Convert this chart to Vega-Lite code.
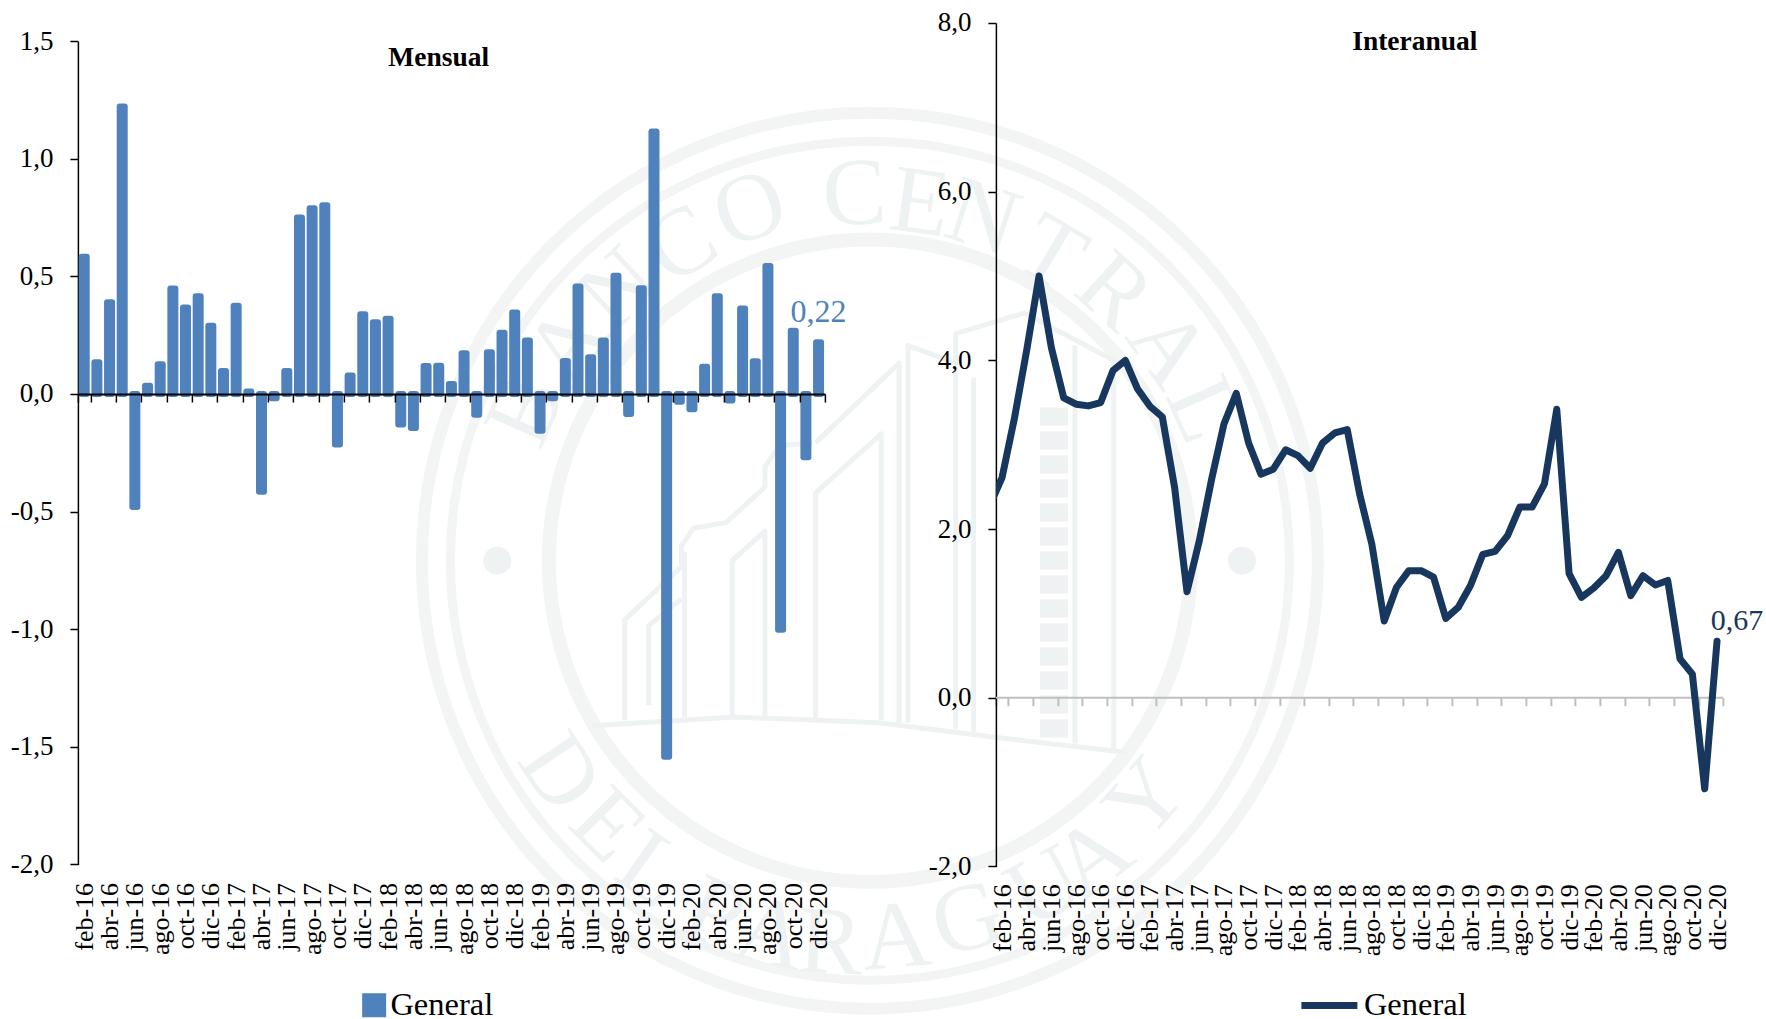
{
"$schema":"https://vega.github.io/schema/vega-lite/v6.json",
"background":"white",
"padding":{"left":9.9,"top":9,"right":0,"bottom":0},
"config":{"view":{"stroke":null},"font":"Liberation Serif",
 "axis":{"labelFont":"Liberation Serif","labelColor":"#000000","grid":false,"title":null,"labelOverlap":false,"labelBound":false,"labelFlush":false},
 "legend":{"labelFont":"Liberation Serif","labelColor":"#000000"}},
"datasets":{
"mensual":[
{"mes":"feb-16","v":0.584,"serie":"General"},{"mes":"mar-16","v":0.135,"serie":"General"},{"mes":"abr-16","v":0.39,"serie":"General"},{"mes":"may-16","v":1.222,"serie":"General"},{"mes":"jun-16","v":-0.48,"serie":"General"},{"mes":"jul-16","v":0.035,"serie":"General"},{"mes":"ago-16","v":0.127,"serie":"General"},{"mes":"sep-16","v":0.449,"serie":"General"},{"mes":"oct-16","v":0.368,"serie":"General"},{"mes":"nov-16","v":0.416,"serie":"General"},{"mes":"dic-16","v":0.29,"serie":"General"},{"mes":"ene-17","v":0.098,"serie":"General"},
{"mes":"feb-17","v":0.375,"serie":"General"},{"mes":"mar-17","v":0.011,"serie":"General"},{"mes":"abr-17","v":-0.416,"serie":"General"},{"mes":"may-17","v":-0.018,"serie":"General"},{"mes":"jun-17","v":0.098,"serie":"General"},{"mes":"jul-17","v":0.75,"serie":"General"},{"mes":"ago-17","v":0.79,"serie":"General"},{"mes":"sep-17","v":0.803,"serie":"General"},{"mes":"oct-17","v":-0.215,"serie":"General"},{"mes":"nov-17","v":0.079,"serie":"General"},{"mes":"dic-17","v":0.339,"serie":"General"},{"mes":"ene-18","v":0.305,"serie":"General"},
{"mes":"feb-18","v":0.32,"serie":"General"},{"mes":"mar-18","v":-0.13,"serie":"General"},{"mes":"abr-18","v":-0.145,"serie":"General"},{"mes":"may-18","v":0.119,"serie":"General"},{"mes":"jun-18","v":0.12,"serie":"General"},{"mes":"jul-18","v":0.042,"serie":"General"},{"mes":"ago-18","v":0.173,"serie":"General"},{"mes":"sep-18","v":-0.088,"serie":"General"},{"mes":"oct-18","v":0.177,"serie":"General"},{"mes":"nov-18","v":0.26,"serie":"General"},{"mes":"dic-18","v":0.347,"serie":"General"},{"mes":"ene-19","v":0.227,"serie":"General"},
{"mes":"feb-19","v":-0.156,"serie":"General"},{"mes":"mar-19","v":-0.018,"serie":"General"},{"mes":"abr-19","v":0.14,"serie":"General"},{"mes":"may-19","v":0.457,"serie":"General"},{"mes":"jun-19","v":0.156,"serie":"General"},{"mes":"jul-19","v":0.227,"serie":"General"},{"mes":"ago-19","v":0.503,"serie":"General"},{"mes":"sep-19","v":-0.085,"serie":"General"},{"mes":"oct-19","v":0.45,"serie":"General"},{"mes":"nov-19","v":1.116,"serie":"General"},{"mes":"dic-19","v":-1.542,"serie":"General"},{"mes":"ene-20","v":-0.033,"serie":"General"},
{"mes":"feb-20","v":-0.065,"serie":"General"},{"mes":"mar-20","v":0.116,"serie":"General"},{"mes":"abr-20","v":0.416,"serie":"General"},{"mes":"may-20","v":-0.028,"serie":"General"},{"mes":"jun-20","v":0.363,"serie":"General"},{"mes":"jul-20","v":0.139,"serie":"General"},{"mes":"ago-20","v":0.544,"serie":"General"},{"mes":"sep-20","v":-1.002,"serie":"General"},{"mes":"oct-20","v":0.269,"serie":"General"},{"mes":"nov-20","v":-0.269,"serie":"General"},{"mes":"dic-20","v":0.22,"serie":"General"}],
"interanual":[
{"mes":"ene-16","v":2.28,"serie":"General"},{"mes":"feb-16","v":2.61,"serie":"General"},{"mes":"mar-16","v":3.31,"serie":"General"},{"mes":"abr-16","v":4.12,"serie":"General"},{"mes":"may-16","v":5.0,"serie":"General"},{"mes":"jun-16","v":4.15,"serie":"General"},{"mes":"jul-16","v":3.555,"serie":"General"},{"mes":"ago-16","v":3.48,"serie":"General"},{"mes":"sep-16","v":3.46,"serie":"General"},{"mes":"oct-16","v":3.5,"serie":"General"},{"mes":"nov-16","v":3.88,"serie":"General"},{"mes":"dic-16","v":4.0,"serie":"General"},{"mes":"ene-17","v":3.66,"serie":"General"},
{"mes":"feb-17","v":3.455,"serie":"General"},{"mes":"mar-17","v":3.33,"serie":"General"},{"mes":"abr-17","v":2.49,"serie":"General"},{"mes":"may-17","v":1.257,"serie":"General"},{"mes":"jun-17","v":1.86,"serie":"General"},{"mes":"jul-17","v":2.59,"serie":"General"},{"mes":"ago-17","v":3.245,"serie":"General"},{"mes":"sep-17","v":3.61,"serie":"General"},{"mes":"oct-17","v":3.02,"serie":"General"},{"mes":"nov-17","v":2.65,"serie":"General"},{"mes":"dic-17","v":2.71,"serie":"General"},{"mes":"ene-18","v":2.94,"serie":"General"},
{"mes":"feb-18","v":2.87,"serie":"General"},{"mes":"mar-18","v":2.72,"serie":"General"},{"mes":"abr-18","v":3.02,"serie":"General"},{"mes":"may-18","v":3.14,"serie":"General"},{"mes":"jun-18","v":3.18,"serie":"General"},{"mes":"jul-18","v":2.42,"serie":"General"},{"mes":"ago-18","v":1.82,"serie":"General"},{"mes":"sep-18","v":0.91,"serie":"General"},{"mes":"oct-18","v":1.31,"serie":"General"},{"mes":"nov-18","v":1.506,"serie":"General"},{"mes":"dic-18","v":1.506,"serie":"General"},{"mes":"ene-19","v":1.43,"serie":"General"},
{"mes":"feb-19","v":0.94,"serie":"General"},{"mes":"mar-19","v":1.07,"serie":"General"},{"mes":"abr-19","v":1.33,"serie":"General"},{"mes":"may-19","v":1.7,"serie":"General"},{"mes":"jun-19","v":1.735,"serie":"General"},{"mes":"jul-19","v":1.92,"serie":"General"},{"mes":"ago-19","v":2.26,"serie":"General"},{"mes":"sep-19","v":2.26,"serie":"General"},{"mes":"oct-19","v":2.535,"serie":"General"},{"mes":"nov-19","v":3.42,"serie":"General"},{"mes":"dic-19","v":1.47,"serie":"General"},{"mes":"ene-20","v":1.19,"serie":"General"},
{"mes":"feb-20","v":1.3,"serie":"General"},{"mes":"mar-20","v":1.447,"serie":"General"},{"mes":"abr-20","v":1.724,"serie":"General"},{"mes":"may-20","v":1.21,"serie":"General"},{"mes":"jun-20","v":1.447,"serie":"General"},{"mes":"jul-20","v":1.337,"serie":"General"},{"mes":"ago-20","v":1.39,"serie":"General"},{"mes":"sep-20","v":0.46,"serie":"General"},{"mes":"oct-20","v":0.28,"serie":"General"},{"mes":"nov-20","v":-1.08,"serie":"General"},{"mes":"dic-20","v":0.67,"serie":"General"}],
"letras":[
{"l":"B","a":210,"b":530,"r":-66},{"l":"A","a":280,"b":420,"r":-54.6},{"l":"N","a":365,"b":325,"r":-43},{"l":"C","a":470,"b":250,"r":-31},{"l":"O","a":585,"b":190,"r":-19},{"l":"C","a":760,"b":165,"r":-2.5},{"l":"E","a":870,"b":180,"r":8},{"l":"N","a":975,"b":205,"r":18},{"l":"T","a":1090,"b":265,"r":30.7},{"l":"R","a":1195,"b":330,"r":42},{"l":"A","a":1285,"b":425,"r":54.6},{"l":"L","a":1345,"b":530,"r":66},
{"l":"D","a":265,"b":1145,"r":56},{"l":"E","a":345,"b":1235,"r":45},{"l":"L","a":420,"b":1310,"r":35},{"l":"P","a":525,"b":1385,"r":24},{"l":"A","a":620,"b":1420,"r":13},{"l":"R","a":720,"b":1435,"r":3},{"l":"A","a":830,"b":1425,"r":-5},{"l":"G","a":950,"b":1395,"r":-15},{"l":"U","a":1080,"b":1340,"r":-28},{"l":"A","a":1160,"b":1290,"r":-37},{"l":"Y","a":1250,"b":1190,"r":-49}],
"puntos":[{"a":161,"b":785},{"a":1410,"b":785}],
"edificio":[
{"g":"base","n":1,"a":320,"b":1065},{"g":"base","n":2,"a":560,"b":1050},{"g":"base","n":3,"a":800,"b":1060},{"g":"base","n":4,"a":1000,"b":1085},{"g":"base","n":5,"a":1215,"b":1110},
{"g":"a","n":1,"a":375,"b":1055},{"g":"a","n":2,"a":375,"b":885},{"g":"a","n":3,"a":470,"b":795},{"g":"a","n":4,"a":470,"b":760},{"g":"a","n":5,"a":490,"b":730},{"g":"a","n":6,"a":545,"b":720},{"g":"a","n":7,"a":610,"b":660},{"g":"a","n":8,"a":610,"b":625},{"g":"a","n":9,"a":635,"b":590},{"g":"a","n":10,"a":690,"b":585},
{"g":"b","n":1,"a":415,"b":1030},{"g":"b","n":2,"a":415,"b":895},{"g":"b","n":3,"a":470,"b":850},
{"g":"c","n":1,"a":555,"b":1050},{"g":"c","n":2,"a":555,"b":785},{"g":"c","n":3,"a":610,"b":735},{"g":"c","n":4,"a":610,"b":1050},
{"g":"d","n":1,"a":475,"b":1050},{"g":"d","n":2,"a":475,"b":770},
{"g":"e","n":1,"a":695,"b":1055},{"g":"e","n":2,"a":695,"b":670},{"g":"e","n":3,"a":805,"b":570},{"g":"e","n":4,"a":805,"b":1055},
{"g":"f","n":1,"a":695,"b":585},{"g":"f","n":2,"a":835,"b":450},{"g":"f","n":3,"a":835,"b":1060},
{"g":"h","n":1,"a":850,"b":1060},{"g":"h","n":2,"a":850,"b":420},{"g":"h","n":3,"a":930,"b":450},
{"g":"i","n":1,"a":930,"b":1070},{"g":"i","n":2,"a":930,"b":400},{"g":"i","n":3,"a":1045,"b":365},{"g":"i","n":4,"a":1195,"b":445},{"g":"i","n":5,"a":1195,"b":1105},
{"g":"j","n":1,"a":960,"b":1075},{"g":"j","n":2,"a":960,"b":475},
{"g":"k","n":1,"a":1130,"b":1095},{"g":"k","n":2,"a":1130,"b":420}],
"torre":[{"n":1,"a":1095,"b":525},{"n":2,"a":1095,"b":1090}]
},
"hconcat":[
{"width":747,"height":843.4,
 "layer":[
  {"layer":[
    {"data":{"values":[{}]},"mark":{"type":"point","filled":false,"stroke":"#eef2f2","strokeWidth":12,"size":802816},"encoding":{
      "x":{"datum":786,"type":"quantitative","scale":{"domain":[25,1548],"range":[338.3,1246.3],"nice":false,"zero":false},"axis":null},
      "y":{"datum":785,"type":"quantitative","scale":{"domain":[15,1555],"range":[83.7,991.7],"nice":false,"zero":false},"axis":null}}},
    {"data":{"values":[{}]},"mark":{"type":"point","filled":false,"stroke":"#eef2f2","strokeWidth":9,"size":704000},"encoding":{"x":{"datum":786,"type":"quantitative"},"y":{"datum":785,"type":"quantitative"}}},
    {"data":{"values":[{}]},"mark":{"type":"point","filled":false,"stroke":"#eef2f2","strokeWidth":14,"size":412164},"encoding":{"x":{"datum":786,"type":"quantitative"},"y":{"datum":785,"type":"quantitative"}}},
    {"data":{"name":"puntos"},"mark":{"type":"point","filled":true,"fill":"#eef2f2","opacity":1,"size":784},"encoding":{"x":{"field":"a","type":"quantitative"},"y":{"field":"b","type":"quantitative"}}},
    {"data":{"name":"letras"},"mark":{"type":"text","font":"Liberation Serif","fontSize":96,"fill":"#eef2f2","baseline":"middle","align":"center"},"encoding":{"x":{"field":"a","type":"quantitative"},"y":{"field":"b","type":"quantitative"},"text":{"field":"l"},"angle":{"field":"r","type":"quantitative","scale":null}}},
    {"data":{"name":"edificio"},"mark":{"type":"line","stroke":"#eef2f2","strokeWidth":5,"strokeJoin":"round"},"encoding":{"x":{"field":"a","type":"quantitative"},"y":{"field":"b","type":"quantitative"},"detail":{"field":"g"},"order":{"field":"n"}}},
    {"data":{"name":"torre"},"mark":{"type":"line","stroke":"#eef2f2","strokeWidth":28,"strokeDash":[18,6]},"encoding":{"x":{"field":"a","type":"quantitative"},"y":{"field":"b","type":"quantitative"},"order":{"field":"n"}}}
  ]},
  {"data":{"name":"mensual"},
   "encoding":{
     "x":{"field":"mes","type":"ordinal","sort":null,"scale":{"type":"band","paddingInner":0,"paddingOuter":0,"domain":["feb-16","mar-16","abr-16","may-16","jun-16","jul-16","ago-16","sep-16","oct-16","nov-16","dic-16","ene-17","feb-17","mar-17","abr-17","may-17","jun-17","jul-17","ago-17","sep-17","oct-17","nov-17","dic-17","ene-18","feb-18","mar-18","abr-18","may-18","jun-18","jul-18","ago-18","sep-18","oct-18","nov-18","dic-18","ene-19","feb-19","mar-19","abr-19","may-19","jun-19","jul-19","ago-19","sep-19","oct-19","nov-19","dic-19","ene-20","feb-20","mar-20","abr-20","may-20","jun-20","jul-20","ago-20","sep-20","oct-20","nov-20","dic-20"]},
       "axis":{"orient":"bottom","values":["feb-16","abr-16","jun-16","ago-16","oct-16","dic-16","feb-17","abr-17","jun-17","ago-17","oct-17","dic-17","feb-18","abr-18","jun-18","ago-18","oct-18","dic-18","feb-19","abr-19","jun-19","ago-19","oct-19","dic-19","feb-20","abr-20","jun-20","ago-20","oct-20","dic-20"],
         "tickBand":"extent","tickExtra":false,"offset":-472.4,"labelPadding":480.4,"tickSize":8,"tickColor":"#000000","tickWidth":1.5,"domainColor":"#000000","domainWidth":2,"labelAngle":-90,"labelAlign":"right","labelBaseline":"middle","labelFontSize":26,"zindex":1}},
     "y":{"field":"v","type":"quantitative","scale":{"domain":[-2,1.5],"range":[841.4,18.2],"nice":false},
       "axis":{"orient":"left","values":[-2,-1.5,-1,-0.5,0,0.5,1,1.5],"labelExpr":"replace(replace(format(datum.value,'.1f'),'.',','),'−','-')","tickSize":8,"tickColor":"#000000","tickWidth":1.5,"domainColor":"#000000","domainWidth":1.5,"labelFontSize":27,"labelPadding":17}}},
   "layer":[
    {"mark":{"type":"bar","width":5,"stroke":"#4f81bd","strokeWidth":6,"strokeJoin":"round"},
     "encoding":{"color":{"field":"serie","type":"nominal","scale":{"range":["#4f81bd"]},
       "legend":{"title":null,"orient":"none","legendX":280,"legendY":966,"symbolType":"square","symbolSize":576,"symbolStrokeWidth":0,"labelFontSize":32.5,"labelOffset":0}}}},
    {"transform":[{"filter":"datum.mes==='dic-20'"},{"calculate":"replace(format(datum.v,'.2f'),'.',',')","as":"et"}],
     "mark":{"type":"text","color":"#4f81bd","fontSize":32,"baseline":"middle","dy":-30,"font":"Liberation Serif"},"encoding":{"text":{"field":"et"}}},
    {"transform":[{"filter":"datum.mes==='jun-18'"}],"mark":{"type":"text","fontWeight":"bold","fontSize":27.5,"color":"#000000","font":"Liberation Serif","baseline":"middle"},
     "encoding":{"text":{"value":"Mensual"},"y":{"datum":1.43,"type":"quantitative"}}}
   ]}
 ],
 "resolve":{"scale":{"x":"independent","y":"independent"},"axis":{"x":"independent","y":"independent"}}
},
{"width":727.3,"height":843.4,
 "data":{"name":"interanual"},
 "encoding":{
   "x":{"field":"mes","type":"ordinal","sort":null,"scale":{"type":"band","paddingInner":0,"paddingOuter":0,"range":[-12.327,727.3],"domain":["ene-16","feb-16","mar-16","abr-16","may-16","jun-16","jul-16","ago-16","sep-16","oct-16","nov-16","dic-16","ene-17","feb-17","mar-17","abr-17","may-17","jun-17","jul-17","ago-17","sep-17","oct-17","nov-17","dic-17","ene-18","feb-18","mar-18","abr-18","may-18","jun-18","jul-18","ago-18","sep-18","oct-18","nov-18","dic-18","ene-19","feb-19","mar-19","abr-19","may-19","jun-19","jul-19","ago-19","sep-19","oct-19","nov-19","dic-19","ene-20","feb-20","mar-20","abr-20","may-20","jun-20","jul-20","ago-20","sep-20","oct-20","nov-20","dic-20"]},
     "axis":{"values":["feb-16","abr-16","jun-16","ago-16","oct-16","dic-16","feb-17","abr-17","jun-17","ago-17","oct-17","dic-17","feb-18","abr-18","jun-18","ago-18","oct-18","dic-18","feb-19","abr-19","jun-19","ago-19","oct-19","dic-19","feb-20","abr-20","jun-20","ago-20","oct-20","dic-20"],
       "domain":false,"tickBand":"extent","tickExtra":false,"offset":-168.7,"labelPadding":178,"tickSize":8,"tickColor":"#bfbfbf","tickWidth":2,"labelAngle":-90,"labelAlign":"right","labelBaseline":"middle","labelFontSize":26}},
   "y":{"field":"v","type":"quantitative","scale":{"domain":[-2,8],"nice":false},
     "axis":{"values":[-2,0,2,4,6,8],"labelExpr":"replace(replace(format(datum.value,'.1f'),'.',','),'−','-')","tickSize":8,"tickColor":"#000000","tickWidth":1.5,"domainColor":"#000000","domainWidth":1.5,"labelFontSize":27,"labelPadding":17}}},
 "layer":[
  {"transform":[{"filter":"datum.mes==='feb-16'"}],"mark":{"type":"rule","color":"#bfbfbf","strokeWidth":2,"xOffset":-6.16,"x2Offset":6.16},"encoding":{"x":{"datum":"feb-16","type":"ordinal"},"x2":{"datum":"dic-20"},"y":{"datum":0,"type":"quantitative"}}},
  {"mark":{"type":"line","strokeWidth":7,"strokeJoin":"round","strokeCap":"round","clip":true},
   "encoding":{"color":{"field":"serie","type":"nominal","scale":{"range":["#17375e"]},
     "legend":{"title":null,"orient":"none","legendX":302,"legendY":951,"symbolType":"stroke","symbolSize":3136,"symbolStrokeWidth":7,"labelFontSize":32.5,"labelOffset":3}}}},
  {"transform":[{"filter":"datum.mes==='dic-20'"},{"calculate":"replace(format(datum.v,'.2f'),'.',',')","as":"et"}],
   "mark":{"type":"text","color":"#17375e","fontSize":30,"baseline":"middle","dx":20,"dy":-20,"font":"Liberation Serif"},"encoding":{"text":{"field":"et"}}},
  {"transform":[{"filter":"datum.mes==='nov-18'"}],"mark":{"type":"text","fontWeight":"bold","fontSize":27.5,"color":"#000000","font":"Liberation Serif","baseline":"middle","dx":6},
   "encoding":{"text":{"value":"Interanual"},"y":{"datum":7.78,"type":"quantitative"}}}
 ]}
],
"spacing":171,
"bounds":"flush",
"resolve":{"scale":{"color":"independent"}}
}
